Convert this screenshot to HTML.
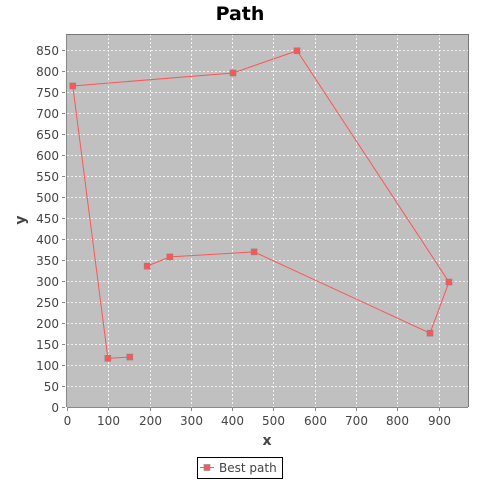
<!DOCTYPE html>
<html><head><meta charset="utf-8"><style>
body{margin:0;background:#fff;width:480px;height:480px;overflow:hidden;font-family:"Liberation Sans","DejaVu Sans",sans-serif}
</style></head><body>
<svg id="chart" width="480" height="480" xmlns="http://www.w3.org/2000/svg" font-family="DejaVu Sans, Liberation Sans, sans-serif">
<rect width="480" height="480" fill="#fff"/>
<text x="240" y="20" text-anchor="middle" font-size="19" font-weight="bold" fill="#000">Path</text>
<rect x="67" y="34" width="401" height="373" fill="#c0c0c0"/>
<g id="grid"></g>
<g id="axes"></g>
<g id="series"></g>
<text x="267" y="445" text-anchor="middle" font-size="14" font-weight="bold" fill="#444">x</text>
<text x="25" y="220" text-anchor="middle" font-size="14" font-weight="bold" fill="#444" transform="rotate(-90 25 220)">y</text>
<g>
<rect x="197.5" y="457.5" width="85" height="21" fill="#fff" stroke="#000"/>
<line x1="200" y1="467.5" x2="214" y2="467.5" stroke="#f55" stroke-width="1"/>
<rect x="204" y="464.5" width="6" height="6" fill="#f55" stroke="#888" stroke-width="0.6"/>
<text x="219" y="472" font-size="12" fill="#444">Best path</text>
</g>
</svg>
<script>
const xVals=[194,249,453,879,925,557,402,14,99,152];
const yVals=[335,357,369,175,297,849,796,765,115,118];
const xTicks=[0,100,200,300,400,500,600,700,800,900];
const yTicks=[0,50,100,150,200,250,300,350,400,450,500,550,600,650,700,750,800,850];
const NS="http://www.w3.org/2000/svg";
const L=67,R=468,T=34,B=406.5;
const xMax=971,yMax=889;
const sx=v=>L+v/xMax*(R-L);
const sy=v=>B-v/yMax*(B-T);
function mk(tag,attrs,parent){const e=document.createElementNS(NS,tag);for(const k in attrs)e.setAttribute(k,attrs[k]);parent.appendChild(e);return e;}
const grid=document.getElementById('grid'),axes=document.getElementById('axes'),ser=document.getElementById('series');
xTicks.forEach(t=>{const x=Math.round(sx(t))+0.5;
 if(t>0){const g=mk('line',{x1:x,y1:T,x2:x,y2:407,stroke:'#fff','stroke-width':0.8,'stroke-dasharray':'2,2'},grid);
 
 }
 mk('line',{x1:x,y1:408,x2:x,y2:411,stroke:'#888'},axes);
 const tx=mk('text',{x:x,y:425,'text-anchor':'middle','font-size':12,fill:'#444'},axes);tx.textContent=t;
 
 });
yTicks.forEach(t=>{const y=Math.round(sy(t))+0.5;
 if(t>0){const g=mk('line',{x1:L,y1:y,x2:R,y2:y,stroke:'#fff','stroke-width':0.8,'stroke-dasharray':'2,2'},grid);
 
 }
 mk('line',{x1:62,y1:y,x2:65,y2:y,stroke:'#888'},axes);
 const tx=mk('text',{x:59,y:y+4.5,'text-anchor':'end','font-size':12,fill:'#444'},axes);tx.textContent=t;
 
 });
mk('line',{x1:66.5,y1:T,x2:66.5,y2:407,stroke:'#888'},axes);
mk('line',{x1:L,y1:407.5,x2:R,y2:407.5,stroke:'#888'},axes);
mk('line',{x1:L,y1:34.5,x2:R,y2:34.5,stroke:'#777'},axes);
mk('line',{x1:R+0.5,y1:34,x2:R+0.5,y2:407,stroke:'#777'},axes);
const pts=xVals.map((v,i)=>sx(v)+','+sy(yVals[i])).join(' ');
const pl=mk('polyline',{points:pts,fill:'none',stroke:'#f55','stroke-width':1},ser);


xVals.forEach((v,i)=>{const m=mk('rect',{x:sx(v)-3,y:sy(yVals[i])-3,width:6,height:6,fill:'#f55',stroke:'#888','stroke-width':0.6},ser);
 
 });
</script>
</body></html>
